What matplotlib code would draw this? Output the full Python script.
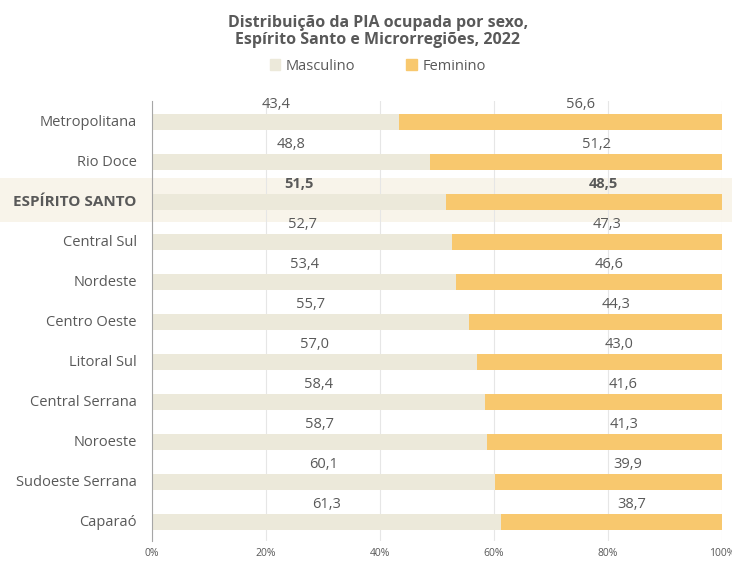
import matplotlib
matplotlib.use('Agg')
import matplotlib.pyplot as plt
from matplotlib.patches import Patch
import numpy as np

plt.rcParams['font.family'] = ['Open Sans', 'DejaVu Sans']

regioes = ['Metropolitana', 'Rio Doce', 'ESPÍRITO SANTO', 'Central Sul', 'Nordeste',
           'Centro Oeste', 'Litoral Sul', 'Central Serrana', 'Noroeste',
           'Sudoeste Serrana', 'Caparaó']
masculino = [43.4, 48.8, 51.5, 52.7, 53.4, 55.7, 57.0, 58.4, 58.7, 60.1, 61.3]
feminino = [56.6, 51.2, 48.5, 47.3, 46.6, 44.3, 43.0, 41.6, 41.3, 39.9, 38.7]
destaque = 'ESPÍRITO SANTO'

cor_masc = '#ECE9DA'
cor_fem = '#F8C86E'
cor_texto = '#595959'


def fmt(v):
    return '{:.1f}'.format(v).replace('.', ',')


fig = plt.figure(figsize=(7.32, 5.61), dpi=100)
ax = fig.add_axes([152 / 732, 1 - 541 / 561, 570 / 732, 440 / 561])

y = np.arange(len(regioes))
yb = y + 0.03
ax.barh(yb, masculino, height=0.4, color=cor_masc, zorder=2)
ax.barh(yb, feminino, left=masculino, height=0.4, color=cor_fem, zorder=2)

for i, r in enumerate(regioes):
    bold = 'bold' if r == destaque else 'normal'
    m, f = masculino[i], feminino[i]
    ax.text(m / 2, i - 0.42, fmt(m), ha='center', va='center', fontsize=10.5,
            color=cor_texto, fontweight=bold, zorder=3)
    ax.text(m + f / 2 + 3.5, i - 0.42, fmt(f), ha='center', va='center', fontsize=10.5,
            color=cor_texto, fontweight=bold, zorder=3)

# faixa de destaque
k = regioes.index(destaque)
ax.axhspan(k - 0.57, k + 0.52, xmin=-152 / 570, xmax=580 / 570, color='#F8F4EA',
           zorder=0, clip_on=False, lw=0)

ax.set_xlim(0, 100)
ax.set_ylim(len(regioes) - 0.5, -0.5)
ax.set_xticks([0, 20, 40, 60, 80, 100])
ax.set_xticklabels(['0%', '20%', '40%', '60%', '80%', '100%'], fontsize=7.5, color=cor_texto)
ax.set_yticks(y)
ax.set_yticklabels(regioes, fontsize=10.5, color=cor_texto)
for lab in ax.get_yticklabels():
    if lab.get_text() == destaque:
        lab.set_fontweight('bold')
        lab.set_fontsize(11)
ax.tick_params(axis='y', length=0, pad=11)
ax.tick_params(axis='x', length=0, pad=5)
ax.grid(axis='x', color='#E6E6E6', lw=0.8, zorder=1)
for s in ['top', 'right', 'bottom']:
    ax.spines[s].set_visible(False)
ax.spines['left'].set_color('#A6A6A6')
ax.spines['left'].set_zorder(4)
ax.set_facecolor('none')

fig.text(0.516, 0.944, 'Distribuição da PIA ocupada por sexo,\nEspírito Santo e Microrregiões, 2022',
         ha='center', va='center', fontsize=11.5, fontweight='bold', color=cor_texto,
         linespacing=1.05)
handles = [Patch(color=cor_masc, label='Masculino'), Patch(color=cor_fem, label='Feminino')]
fig.legend(handles=handles, loc='center', bbox_to_anchor=(0.516, 0.882), ncol=2,
           frameon=False, fontsize=10.5, handlelength=0.7, handleheight=0.7,
           columnspacing=3.5, handletextpad=0.4, labelcolor=cor_texto)

plt.savefig('out.png', dpi=100)
